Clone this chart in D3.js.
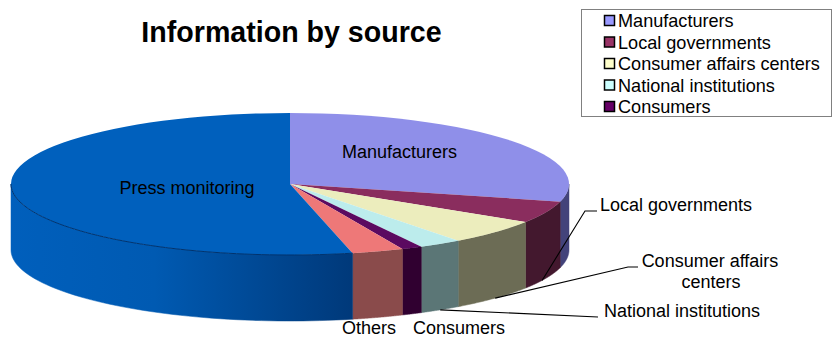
<!DOCTYPE html>
<html>
<head>
<meta charset="utf-8">
<script src="https://cdn.jsdelivr.net/npm/d3@7/dist/d3.min.js"></script>
<style>
  html, body { margin: 0; padding: 0; background: #fff; }
  svg { display: block; }
  text { font-family: "Liberation Sans", Arial, sans-serif; fill: #000; }
</style>
</head>
<body>
<svg id="chart" width="832" height="338"></svg>
<script>
// Share of information per source, in percent, clockwise from twelve o'clock
const categories = ["Manufacturers", "Local governments", "Consumer affairs centers",
                    "National institutions", "Consumers", "Others", "Press monitoring"];
const values = [29, 5, 5.7, 2.5, 1.2, 3, 53.6];
const legendItems = ["Manufacturers", "Local governments", "Consumer affairs centers",
                     "National institutions", "Consumers"];
const topColors = ["#8f8fe9", "#8a2d5e", "#ecedbd", "#bcecec", "#5b0a60", "#ee7878", "#0060bd"];
const wallColors = ["#43437a", "#43182e", "#6c6c55", "#5b7676", "#300030", "#8a4b4b", "#00397a"];
const legendColors = ["#9999ff", "#993366", "#ffffcc", "#ccffff", "#660066"];

const cx = 290, cy = 184, rx = 279, ry = 71, depth = 66;
const svg = d3.select("#chart");

const slices = d3.pie().sort(null).value(d => d)(values);
const rimX = a => cx + rx * Math.sin(a);
const rimY = a => cy - ry * Math.cos(a);

// Side wall of the disc: only the part facing the viewer is drawn
const wallLine = d3.line();
function wallPath(a0, a1) {
  const from = Math.max(a0, Math.PI / 2), to = Math.min(a1, 3 * Math.PI / 2);
  if (to <= from) return null;
  const angles = d3.range(0, 61).map(i => from + (to - from) * i / 60);
  const upper = angles.map(a => [rimX(a), rimY(a)]);
  const lower = angles.slice().reverse().map(a => [rimX(a), rimY(a) + depth]);
  return wallLine(upper.concat(lower)) + "Z";
}

const defs = svg.append("defs");
const pressWall = defs.append("linearGradient")
  .attr("id", "pressWall").attr("gradientUnits", "userSpaceOnUse")
  .attr("x1", 11).attr("x2", 352).attr("y1", 0).attr("y2", 0);
pressWall.append("stop").attr("offset", "0").attr("stop-color", "#005fbc");
pressWall.append("stop").attr("offset", "0.42").attr("stop-color", "#005ab2");
pressWall.append("stop").attr("offset", "1").attr("stop-color", "#00397a");

const walls = svg.append("g");
slices.forEach((s, i) => {
  const d = wallPath(s.startAngle, s.endAngle);
  if (d) walls.append("path").attr("d", d)
    .attr("fill", i === 6 ? "url(#pressWall)" : wallColors[i])
    .attr("stroke", i === 6 ? "url(#pressWall)" : wallColors[i])
    .attr("stroke-width", 0.5);
});

// Top face: a circular pie flattened into an ellipse
const arc = d3.arc().innerRadius(0).outerRadius(rx);
const topFace = svg.append("g").attr("transform", `translate(${cx},${cy}) scale(1,${ry / rx})`);
topFace.selectAll("path").data(slices).join("path")
  .attr("d", arc)
  .attr("fill", (d, i) => topColors[i]);

// Dark seam where the top face meets the wall of the largest slice
const press = slices[6];
const seamAngles = d3.range(0, 61).map(i => press.startAngle + (Math.PI * 1.5 - press.startAngle) * i / 60);
svg.append("path")
  .attr("d", wallLine(seamAngles.map(a => [rimX(a), rimY(a)])))
  .attr("fill", "none").attr("stroke", "#00336e").attr("stroke-width", 1);

// Leader lines start at the base of a slice's wall and run out through their bends
const leaders = [
  { slice: 1, along: 0.61, bends: [[585, 211], [597, 211]] },
  { slice: 2, along: 0.5, bends: [[628, 267], [638, 267]] },
  { slice: 3, along: 0.5, bends: [[598, 317]] }
];
svg.append("g").selectAll("path").data(leaders).join("path")
  .attr("d", d => {
    const s = slices[d.slice];
    const a = s.startAngle + (s.endAngle - s.startAngle) * d.along;
    return wallLine([[rimX(a), rimY(a) + depth], ...d.bends]);
  })
  .attr("fill", "none").attr("stroke", "#000").attr("stroke-width", 1.1);

// Title
svg.append("text").attr("x", 291.5).attr("y", 42)
  .attr("text-anchor", "middle").attr("font-size", 28.6).attr("font-weight", "bold")
  .text("Information by source");

// Slice labels
const labels = [
  { text: "Manufacturers", x: 399.5, y: 158 },
  { text: "Press monitoring", x: 187, y: 194 },
  { text: "Local governments", x: 676, y: 211 },
  { text: "Consumer affairs", x: 710, y: 267 },
  { text: "centers", x: 711, y: 288 },
  { text: "National institutions", x: 682, y: 317 },
  { text: "Consumers", x: 459, y: 334 },
  { text: "Others", x: 369, y: 334 }
];
svg.append("g").selectAll("text").data(labels).join("text")
  .attr("x", d => d.x).attr("y", d => d.y)
  .attr("text-anchor", "middle").attr("font-size", 18)
  .text(d => d.text);

// Legend
const legend = svg.append("g");
legend.append("rect")
  .attr("x", 581.5).attr("y", 9.5).attr("width", 250).attr("height", 107)
  .attr("fill", "#fff").attr("stroke", "#808080").attr("stroke-width", 1);
const rowY = d3.scalePoint().domain(legendItems).range([20.5, 106.5]);
const rows = legend.selectAll("g.row").data(legendItems).join("g").attr("class", "row")
  .attr("transform", d => `translate(0,${rowY(d)})`);
rows.append("rect")
  .attr("x", 604.5).attr("y", -5).attr("width", 10).attr("height", 10)
  .attr("fill", (d, i) => legendColors[i]).attr("stroke", "#000").attr("stroke-width", 1.5);
rows.append("text")
  .attr("x", 618).attr("y", 6.5).attr("font-size", 18.1)
  .text(d => d);
</script>
</body>
</html>
